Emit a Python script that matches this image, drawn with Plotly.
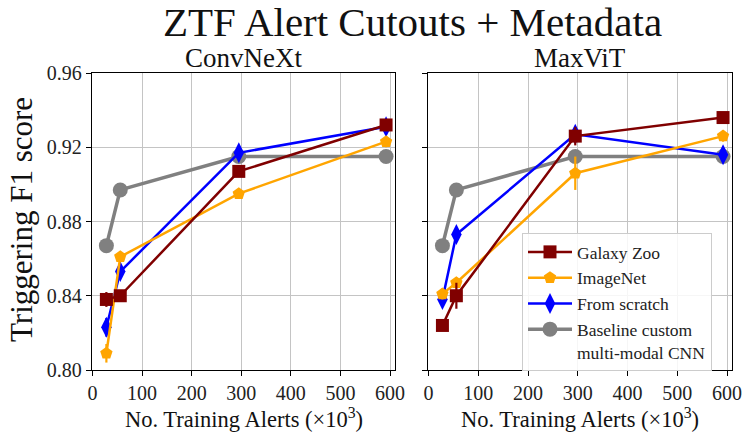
import plotly.graph_objects as go

# ---------------- data ----------------
x_alerts = [28, 56, 295, 592]  # No. training alerts (x10^3)

series_names = ["Galaxy Zoo", "ImageNet", "From scratch", "Baseline custom<br>multi-modal CNN"]

conv_gz = [0.838, 0.840, 0.907, 0.932]
conv_gz_err = [0.004, 0.002, 0.002, 0.003]
conv_in = [0.809, 0.861, 0.895, 0.923]
conv_in_err = [0.005, 0.002, 0.001, 0.003]
conv_fs = [0.823, 0.853, 0.917, 0.931]
conv_fs_err = [0.005, 0.002, 0.002, 0.002]

maxvit_gz = [0.824, 0.840, 0.926, 0.936]
maxvit_gz_err = [0.003, 0.007, 0.005, 0.002]
maxvit_in = [0.841, 0.847, 0.906, 0.926]
maxvit_in_err = [0.003, 0.002, 0.009, 0.003]
maxvit_fs = [0.838, 0.873, 0.927, 0.916]
maxvit_fs_err = [0.004, 0.003, 0.004, 0.002]

baseline = [0.867, 0.897, 0.915, 0.915]
baseline_err = [0.001, 0.002, 0.001, 0.001]

x_ticks = [0, 100, 200, 300, 400, 500, 600]
y_ticks = [0.80, 0.84, 0.88, 0.92, 0.96]
y_tick_labels = ["0.80", "0.84", "0.88", "0.92", "0.96"]

panel_titles = ["ConvNeXt", "MaxViT"]
main_title = "ZTF Alert Cutouts + Metadata"
x_title = "No. Training Alerts (×10<sup>3</sup>)"
y_title = "Triggering F1 score"

# ---------------- styles ----------------
FONT = "Liberation Serif"
colors = {"gz": "#800000", "in": "#FFA500", "fs": "#0000FF", "bl": "#808080"}

styles = {
    "bl": dict(symbol="circle", size=15, width=3.5),
    "fs": dict(symbol="diamond-tall", size=15, width=2.5),
    "in": dict(symbol="pentagon", size=13, width=2.5),
    "gz": dict(symbol="square", size=13, width=2.5),
}

fig = go.Figure()

panels = [
    ("x", "y", {"gz": (conv_gz, conv_gz_err), "in": (conv_in, conv_in_err),
                "fs": (conv_fs, conv_fs_err), "bl": (baseline, baseline_err)}),
    ("x2", "y2", {"gz": (maxvit_gz, maxvit_gz_err), "in": (maxvit_in, maxvit_in_err),
                  "fs": (maxvit_fs, maxvit_fs_err), "bl": (baseline, baseline_err)}),
]
rank = {"gz": 1, "in": 2, "fs": 3, "bl": 4}
name_of = {"gz": series_names[0], "in": series_names[1], "fs": series_names[2], "bl": series_names[3]}

for i, (xa, ya, data) in enumerate(panels):
    for key in ["bl", "fs", "in", "gz"]:
        vals, errs = data[key]
        st = styles[key]
        fig.add_trace(go.Scatter(
            x=x_alerts, y=vals, xaxis=xa, yaxis=ya,
            mode="lines+markers",
            name=name_of[key],
            legendrank=rank[key],
            showlegend=(i == 1),
            line=dict(color=colors[key], width=st["width"]),
            marker=dict(symbol=st["symbol"], size=st["size"], color=colors[key],
                        line=dict(width=0)),
            error_y=dict(type="data", array=errs, visible=True, color=colors[key],
                         thickness=2.2, width=0),
        ))

axis_common = dict(
    showline=True, linecolor="black", linewidth=1.3, mirror=True,
    ticks="outside", ticklen=5, tickwidth=1.2, tickcolor="black",
    showgrid=True, gridcolor="#c4c4c4", gridwidth=1, zeroline=False,
    automargin=False,
    tickfont=dict(family=FONT, size=20, color="#222"),
)

y0, y1 = 1 - 370 / 432, 1 - 73 / 432
fig.update_layout(
    width=745, height=432,
    autosize=False,
    margin=dict(l=0, r=0, t=0, b=0, pad=0, autoexpand=False),
    paper_bgcolor="white", plot_bgcolor="white",
    font=dict(family=FONT, color="#222"),
    xaxis=dict(domain=[92 / 745, 395 / 745], range=[-1, 610], tickvals=x_ticks,
               anchor="y", **axis_common),
    xaxis2=dict(domain=[428 / 745, 732 / 745], range=[-1, 610], tickvals=x_ticks,
                anchor="y2", **axis_common),
    yaxis=dict(domain=[y0, y1], range=[0.80, 0.96], tickvals=y_ticks, ticktext=y_tick_labels,
               anchor="x", **axis_common),
    yaxis2=dict(domain=[y0, y1], range=[0.80, 0.96], tickvals=y_ticks, ticktext=y_tick_labels,
                showticklabels=False, anchor="x2", **axis_common),
    legend=dict(
        x=522 / 745, y=1 - 233 / 432, xanchor="left", yanchor="top",
        bgcolor="rgba(255,255,255,0.85)", bordercolor="#cccccc", borderwidth=1,
        font=dict(family=FONT, size=17.5, color="#222"),
        valign="top", tracegroupgap=0, itemwidth=44,
    ),
    showlegend=True,
)

annotations = [
    dict(text=main_title, x=412 / 745, y=1 - 22 / 432, xref="paper", yref="paper",
         showarrow=False, font=dict(family=FONT, size=41, color="#111"),
         xanchor="center", yanchor="middle"),
    dict(text=panel_titles[0], x=243.5 / 745, y=1 - 58 / 432, xref="paper", yref="paper",
         showarrow=False, font=dict(family=FONT, size=27, color="#111"),
         xanchor="center", yanchor="middle"),
    dict(text=panel_titles[1], x=580 / 745, y=1 - 58 / 432, xref="paper", yref="paper",
         showarrow=False, font=dict(family=FONT, size=27, color="#111"),
         xanchor="center", yanchor="middle"),
    dict(text=x_title, x=243.5 / 745, y=1 - 418 / 432, xref="paper", yref="paper",
         showarrow=False, font=dict(family=FONT, size=22.5, color="#111"),
         xanchor="center", yanchor="middle"),
    dict(text=x_title, x=580 / 745, y=1 - 418 / 432, xref="paper", yref="paper",
         showarrow=False, font=dict(family=FONT, size=22.5, color="#111"),
         xanchor="center", yanchor="middle"),
    dict(text=y_title, x=21 / 745, y=1 - 220 / 432, xref="paper", yref="paper",
         showarrow=False, textangle=-90, font=dict(family=FONT, size=31, color="#111"),
         xanchor="center", yanchor="middle"),
]
fig.update_layout(annotations=annotations)

fig.write_html(
    "out.html",
    config={"displayModeBar": False},
    post_script="document.body.style.margin='0px';document.body.style.overflow='hidden';",
)
